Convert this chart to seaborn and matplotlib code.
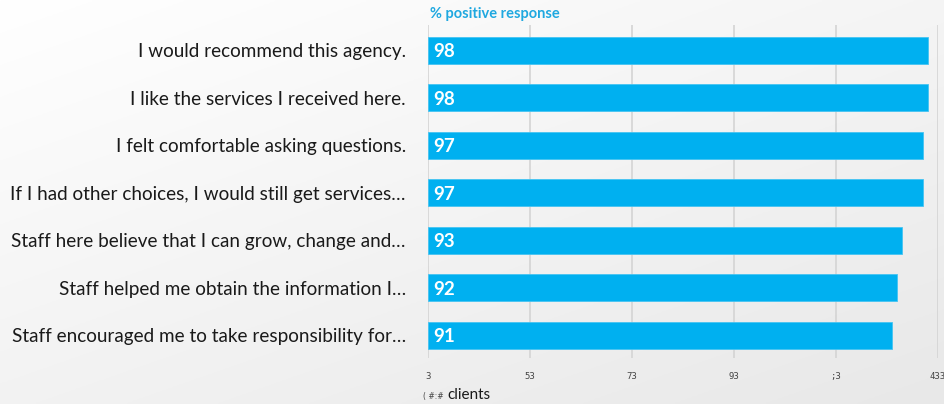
import numpy as np
import matplotlib
matplotlib.use("Agg")
import matplotlib.pyplot as plt
import seaborn as sns
import pandas as pd

statements = [
    "I would recommend this agency.",
    "I like the services I received here.",
    "I felt comfortable asking questions.",
    "If I had other choices, I would still get services…",
    "Staff here believe that I can grow, change and…",
    "Staff helped me obtain the information I…",
    "Staff encouraged me to take responsibility for…",
]
values = [98, 98, 97, 97, 93, 92, 91]
tick_values = [0, 20, 40, 60, 80, 100]
tick_labels = ["3", "53", "73", "93", ";3", "433"]

sns.set_theme(style="white")
plt.rcParams['font.family'] = ['Lato', 'DejaVu Sans']

fig = plt.figure(figsize=(9.45, 4.04), dpi=100)

# gradient background
bg = fig.add_axes([0, 0, 1, 1], zorder=-10)
yy, xx = np.mgrid[0:1:200j, 0:1:400j]
g = 1.0 - 0.09 * (0.45 * xx + 0.55 * yy)
bg.imshow(np.dstack([g, g, g]), aspect="auto", extent=[0, 1, 0, 1], origin="upper")
bg.axis("off")

ax = fig.add_axes([428 / 945, 1 - 358 / 404, (938 - 428) / 945, (358 - 25) / 404])
ax.patch.set_alpha(0)

df = pd.DataFrame({"statement": statements, "value": values})
sns.barplot(data=df, x="value", y="statement", orient="h", color="#00b0f0",
            saturation=1, width=0.57, ax=ax, edgecolor="#45c4f2", linewidth=0.6)

ax.set_xlim(0, 100)
ax.set_ylim(6.48, -0.53)
ax.set_xticks(tick_values)
ax.set_xticklabels(tick_labels, fontsize=6.5, color="#444444", family="DejaVu Sans Mono")
ax.tick_params(axis="x", length=0, pad=10)
ax.tick_params(axis="y", length=0, pad=16, labelsize=13.6, labelcolor="#1a1a1a")
ax.grid(axis="x", color="#d4d4d4", linewidth=1.2)
ax.set_axisbelow(True)
for s in ax.spines.values():
    s.set_visible(False)
ax.set_xlabel("")
ax.set_ylabel("")

for i, v in enumerate(values):
    ax.text(1.0, i, str(v), va="center_baseline", ha="left", color="white",
            fontsize=13.5, fontweight="bold")

fig.text(430 / 945, 1 - 14 / 404, "% positive response", color="#1fa8e0",
         fontsize=10.5, fontweight="bold", ha="left", va="center")
fig.text(423 / 945, 1 - 396 / 404, "( #:#", fontsize=5.5, color="#444444",
         ha="left", va="center", family="DejaVu Sans")
fig.text(447 / 945, 1 - 395 / 404, "clients", fontsize=11, color="#1a1a1a",
         ha="left", va="center")

fig.savefig("out.png", dpi=100)
